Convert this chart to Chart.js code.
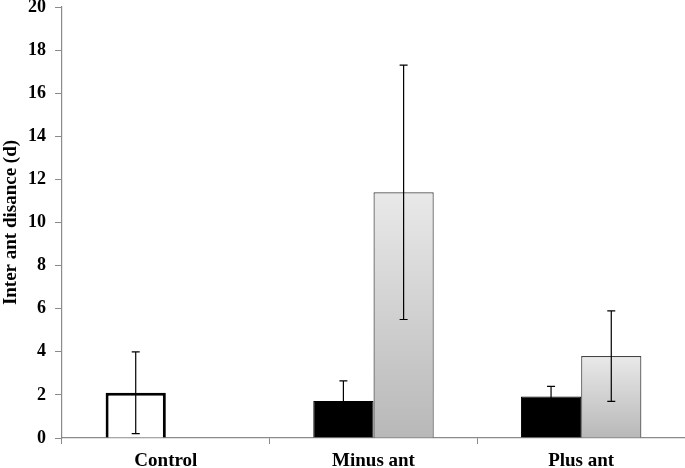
<!DOCTYPE html>
<html>
<head>
<meta charset="utf-8">
<script src="https://cdn.jsdelivr.net/npm/chart.js@4/dist/chart.umd.min.js"></script>
<style>
  html, body { margin: 0; padding: 0; background: #fff; }
  canvas { display: block; }
</style>
</head>
<body>
<canvas id="chart" width="685" height="468"></canvas>
<script>
// Data
const categories = ['Control', 'Minus ant', 'Plus ant'];
const leftValues = [2.1, 1.72, 1.92];
const leftErrors = [1.9, 0.93, 0.48];
const rightValues = [null, 11.4, 3.8];
const rightErrors = [null, 5.9, 2.1];
const yTicks = [0, 2, 4, 6, 8, 10, 12, 14, 16, 18, 20];

const serif = '"Liberation Serif", "Times New Roman", serif';

// Light-to-dark gray gradient per bar
function grayGradient(ctx) {
    const chart = ctx.chart;
    const v = ctx.raw;
    if (v == null || !chart.chartArea) return '#ddd';
    const y = chart.scales.y;
    const top = y.getPixelForValue(v);
    const bottom = y.getPixelForValue(0);
    const g = chart.ctx.createLinearGradient(0, top, 0, bottom);
    g.addColorStop(0, '#e9e9e9');
    g.addColorStop(1, '#b8b8b8');
    return g;
}

// Error bars drawn over the bars
const errorBars = {
    id: 'errorBars',
    afterDatasetsDraw(chart) {
        const ctx = chart.ctx;
        const y = chart.scales.y;
        chart.data.datasets.forEach((ds, i) => {
            const meta = chart.getDatasetMeta(i);
            meta.data.forEach((bar, j) => {
                const v = ds.data[j];
                const e = ds.errors[j];
                if (v == null || e == null) return;
                const hi = y.getPixelForValue(v + e);
                const lo = y.getPixelForValue(Math.max(0, v - e));
                ctx.save();
                ctx.strokeStyle = '#000';
                ctx.lineWidth = 1.2;
                ctx.beginPath();
                ctx.moveTo(bar.x, hi); ctx.lineTo(bar.x, lo);
                ctx.moveTo(bar.x - 4, hi); ctx.lineTo(bar.x + 4, hi);
                ctx.moveTo(bar.x - 4, lo); ctx.lineTo(bar.x + 4, lo);
                ctx.stroke();
                ctx.restore();
            });
        });
    }
};

new Chart(document.getElementById('chart'), {
    type: 'bar',
    data: {
        labels: categories,
        datasets: [{
            data: leftValues,
            errors: leftErrors,
            backgroundColor: ['#ffffff', '#000000', '#000000'],
            borderColor: '#000000',
            borderWidth: [3, 1, 1],
            categoryPercentage: 0.58,
            barPercentage: 1.0
        }, {
            data: rightValues,
            errors: rightErrors,
            backgroundColor: grayGradient,
            borderColor: '#444444',
            borderWidth: 1.2,
            categoryPercentage: 0.58,
            barPercentage: 1.0
        }]
    },
    options: {
        responsive: false,
        animation: false,
        layout: { padding: { top: 7, right: 0, left: 0, bottom: 0 } },
        plugins: {
            legend: { display: false },
            tooltip: { enabled: false }
        },
        scales: {
            x: {
                grid: {
                    offset: true,
                    drawOnChartArea: false,
                    tickLength: 6,
                    color: '#8a8a8a'
                },
                border: { color: '#8a8a8a', width: 1.2 },
                ticks: {
                    color: '#000',
                    font: { family: serif, size: 19, weight: 'bold' },
                    padding: 6
                },
                afterFit(scale) { scale.height = 30; }
            },
            y: {
                min: 0,
                max: 20,
                afterBuildTicks(scale) { scale.ticks = yTicks.map(v => ({ value: v })); },
                grid: {
                    drawOnChartArea: false,
                    tickLength: 7,
                    color: '#8a8a8a'
                },
                border: { color: '#8a8a8a', width: 1.2 },
                ticks: {
                    color: '#000',
                    font: { family: serif, size: 18, weight: 'bold' },
                    padding: 9
                },
                title: {
                    display: true,
                    text: 'Inter ant disance (d)',
                    color: '#000',
                    font: { family: serif, size: 19, weight: 'bold' },
                    padding: { top: 0, bottom: 0 }
                },
                afterFit(scale) {
                    scale.width = 62;
                    scale.paddingTop = 0;
                    scale.paddingBottom = 0;
                }
            }
        }
    },
    plugins: [errorBars]
});
</script>
</body>
</html>
